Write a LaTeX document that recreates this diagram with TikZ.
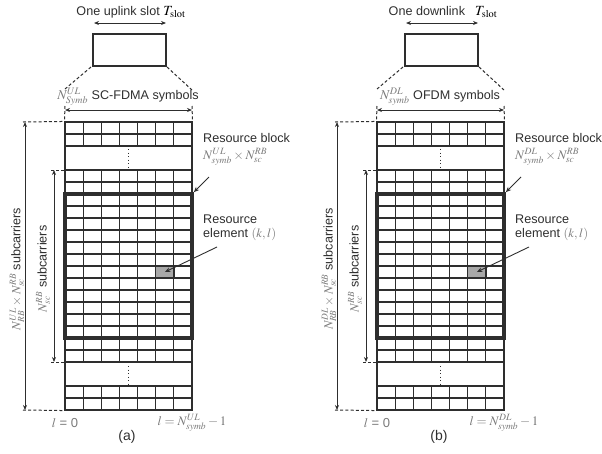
\documentclass[tikz,border=0pt]{standalone}
\usepackage{mathptmx}
\usepackage[no-math]{fontspec}
\setmainfont{Liberation Sans}
\usetikzlibrary{arrows.meta}
\definecolor{lc}{HTML}{2E2E2E}
\definecolor{mc}{HTML}{7A7A7A}
\definecolor{rec}{HTML}{A8A8A8}
\tikzset{
  gridline/.style={draw=lc, line width=1.1pt},
  rbbox/.style={draw=lc, line width=3.6pt, inner sep=0pt},
  recell/.style={fill=rec, draw=lc, line width=1.1pt, inner sep=0pt, minimum width=18.14pt, minimum height=12pt},
  slotbox/.style={draw=lc, line width=1.3pt, inner sep=0pt, minimum width=73pt, minimum height=32pt},
  dsh/.style={draw=lc, line width=1pt, dash pattern=on 3pt off 2.2pt},
  arr/.style={draw=lc, line width=0.9pt, {Stealth[length=5pt,width=4pt]}-{Stealth[length=5pt,width=4pt]}},
  parr/.style={draw=lc, line width=0.9pt, -{Stealth[length=5.5pt,width=4.5pt]}},
  txt/.style={text=lc, inner sep=0pt, font=\fontsize{12.6}{15}\selectfont},
  mtxt/.style={text=mc, inner sep=0pt, font=\fontsize{13}{15}\selectfont},
}
\newcommand\mypanel[6]{%
% #1 prefix, #2 xshift, #3 top text, #4 symbols label, #5 sup (UL/DL), #6 caption
\begin{scope}[xshift=#2, name prefix=#1-]
  % slot
  \node[slotbox] (slot) at (129.5,50) {};
  \coordinate (ta) at (94,23);
  \coordinate (tb) at (166,23);
  \draw[arr] (ta) -- (tb);
  \node[txt] (ttl) at (131,12) {#3};
  % grid outline
  \node[draw=lc, line width=1.1pt, inner sep=0pt, minimum width=127pt, minimum height=288pt] (grid) at (128.5,266) {};
  % horizontal grid lines
  \foreach \y in {134,146,170,182,338,350,362,386,398}
    \draw[gridline] (65,\y) -- (192,\y);
  \foreach \k in {1,...,11}
    \draw[gridline] (65,194+12*\k) -- (192,194+12*\k);
  % vertical lines
  \foreach \i in {1,...,6}{
    \draw[gridline] (65+18.143*\i,122) -- (65+18.143*\i,146);
    \draw[gridline] (65+18.143*\i,170) -- (65+18.143*\i,362);
    \draw[gridline] (65+18.143*\i,386) -- (65+18.143*\i,410);
  }
  % dots
  \draw[lc, line width=1.1pt, dash pattern=on 1.3pt off 2.2pt] (128.5,149) -- (128.5,167);
  \draw[lc, line width=1.1pt, dash pattern=on 1.3pt off 2.2pt] (128.5,366) -- (128.5,384);
  % resource element
  \node[recell] (re) at (164.9,272) {};
  % resource block
  \node[rbbox, minimum width=127pt, minimum height=144pt] (rb) at (128.5,266) {};
  % slot to grid dashed
  \coordinate (sl) at (91,67);
  \coordinate (sr) at (167,67);
  \coordinate (gl) at (65,89);
  \coordinate (gr) at (192,90);
  \draw[dsh] (sl) -- (gl);
  \draw[dsh] (sr) -- (gr);
  % symbols width arrow
  \coordinate (wl) at (65,110);
  \coordinate (wr) at (192,110);
  \draw[dsh] (65,106) -- (grid.north west);
  \draw[dsh] (192,106) -- (grid.north east);
  \draw[arr] (wl) -- (wr);
  \node[txt] (sym) at (128,97) {#4};
  % left dashed lines and arrows
  \coordinate (ot) at (23,122);
  \coordinate (ob) at (23,410);
  \coordinate (it) at (51,170);
  \coordinate (ib) at (51,362);
  \draw[dsh] (ot) -- (grid.north west);
  \draw[dsh] (ob) -- (grid.south west);
  \draw[dsh] (it) -- (65,170);
  \draw[dsh] (ib) -- (65,362);
  \coordinate (oat) at (25,122);
  \coordinate (oab) at (25,410);
  \coordinate (iat) at (54,170);
  \coordinate (iab) at (54,362);
  \draw[arr] (oat) -- (oab);
  \draw[arr] (iat) -- (iab);
  \node[txt, rotate=90] (olab) at (17,269) {\textcolor{mc}{$N^{#5}_{RB}\times N^{RB}_{sc}$} subcarriers};
  \node[txt, rotate=90] (ilab) at (43,269) {\textcolor{mc}{$N^{RB}_{sc}$} subcarriers};
  % resource block label
  \node[txt, anchor=west] (rbl) at (203,138) {Resource block};
  \node[mtxt, anchor=west] (rbm) at (203,157) {$N^{#5}_{symb}\times N^{RB}_{sc}$};
  \coordinate (rbt) at (209,177);
  \draw[parr] (rbt) -- (rb.north east);
  % resource element label
  \node[txt, anchor=west] (rel) at (203,219) {Resource};
  \node[txt, anchor=west] (rel2) at (203,234) {element \textcolor{mc}{$(k,l)$}};
  \coordinate (ret) at (217,247);
  \draw[parr] (ret) -- (re.center);
  % bottom labels
  \node[mtxt] (l0) at (65,423) {$l$ = 0};
  \node[mtxt] (l1) at (192,423) {$l = N^{#5}_{symb} - 1$};
  \node[txt, font=\fontsize{14}{16}\selectfont] (cap) at (127,437) {#6};
\end{scope}}
\begin{document}
\begin{tikzpicture}[x=1pt, y=-1pt]
\useasboundingbox (0,0) rectangle (602,453);
\mypanel{a}{0pt}{One uplink slot \textcolor{black}{\fontsize{14}{16}\selectfont$T_{\mathrm{slot}}$}}{\textcolor{mc}{\fontsize{13.5}{15}\selectfont$N^{UL}_{Symb}$} SC-FDMA symbols}{UL}{(a)}
\mypanel{b}{312pt}{One downlink\hspace{10pt}\textcolor{black}{\fontsize{14}{16}\selectfont$T_{\mathrm{slot}}$}}{\textcolor{mc}{\fontsize{13.5}{15}\selectfont$N^{DL}_{symb}$} OFDM symbols}{DL}{(b)}
\end{tikzpicture}
\end{document}
